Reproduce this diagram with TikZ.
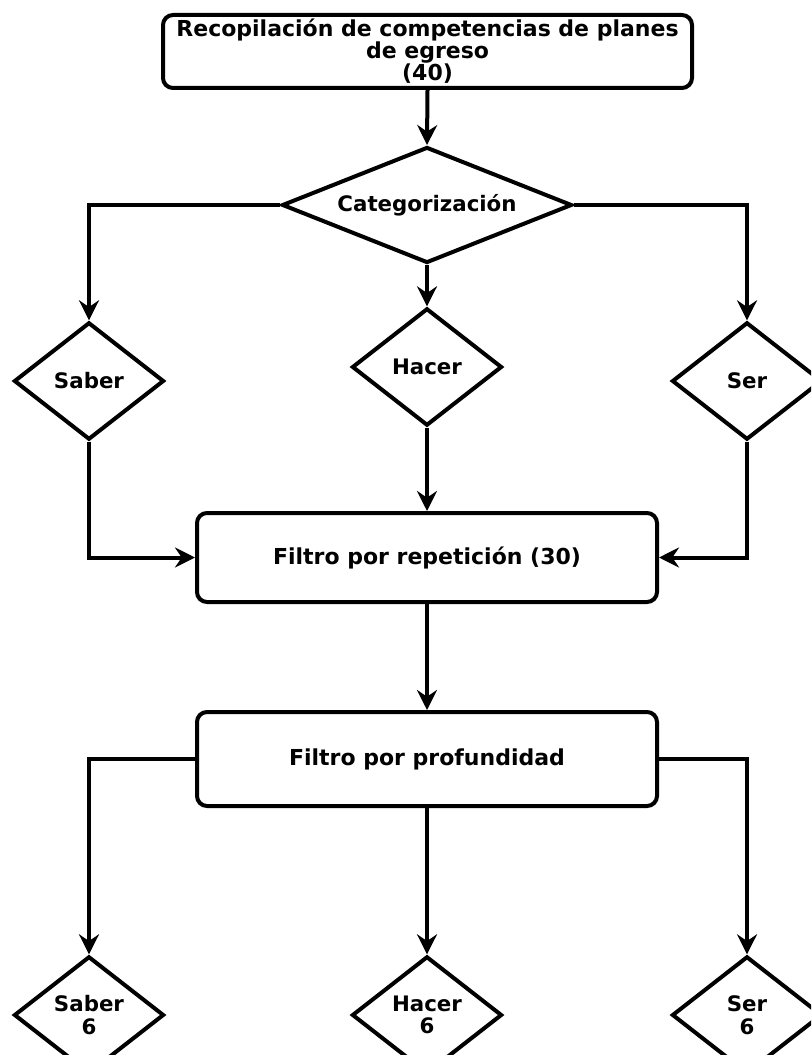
\documentclass[tikz,border=0pt]{standalone}
\usepackage{fontspec}
\usetikzlibrary{shapes.geometric,arrows.meta}
\newfontfamily\cajafont{DejaVu Sans}

\begin{document}
\begin{tikzpicture}[x=0.75pt, y=-0.75pt,
      caja/.style={draw, rounded corners=7.5pt, line width=3pt, align=center,
        inner sep=0pt, font=\cajafont\bfseries\fontsize{16.5pt}{16.5pt}\selectfont},
      rombo/.style={draw, diamond, line width=3pt, inner sep=0pt, align=center,
        shape aspect=1.28, minimum width=112.5pt, minimum height=88pt,
        font=\cajafont\bfseries\fontsize{16pt}{17pt}\selectfont},
      flecha/.style={-{Stealth[length=15pt, width=15pt, inset=5pt]}, line width=3pt}
      ]
      \clip (0,0) rectangle (811,1055);
      \fill[white] (0,0) rectangle (811,1055);

      % arriba
      \node[caja, minimum width=396.75pt, minimum height=54.75pt] (reco) at (427.5,51.5)
        {Recopilación de competencias de planes\\de egreso\\(40)};
      \node[rombo, shape aspect=2.5, minimum width=217.5pt, minimum height=87pt] (cate)
        at (427,205) {Categorización};

      % primera fila de rombos
      \node[rombo] (saber) at (89,381) {Saber};
      \node[rombo] (hacer) at (427,367) {Hacer};
      \node[rombo] (ser) at (747,381) {Ser};

      % filtros
      \node[caja, minimum width=345pt, minimum height=66.75pt] (rep) at (427,557.5)
        {Filtro por repetición (30)};
      \node[caja, minimum width=345pt, minimum height=70.5pt] (prof) at (427,759)
        {Filtro por profundidad};

      % fila final
      \node[rombo] (saber6) at (89,1015) {Saber\\6};
      \node[rombo] (hacer6) at (427,1015) {Hacer\\6};
      \node[rombo] (ser6) at (747,1015) {Ser\\6};

      \draw[flecha] (reco.south) -- (cate.north);
      \draw[flecha] (cate.west) -| (saber.north);
      \draw[flecha] (cate.south) -- (hacer.north);
      \draw[flecha] (cate.east) -| (ser.north);
      \draw[flecha] (saber.south) |- (rep.west);
      \draw[flecha] (hacer.south) -- (rep.north);
      \draw[flecha] (ser.south) |- (rep.east);
      \draw[flecha] (rep.south) -- (prof.north);
      \draw[flecha] (prof.west) -| (saber6.north);
      \draw[flecha] (prof.south) -- (hacer6.north);
      \draw[flecha] (prof.east) -| (ser6.north);
    \end{tikzpicture}
\end{document}
